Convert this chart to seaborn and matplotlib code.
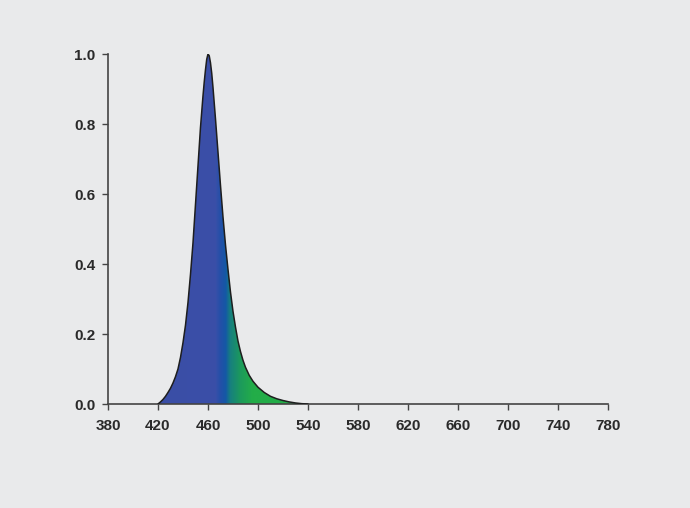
import numpy as np
import pandas as pd
import matplotlib
matplotlib.use("Agg")
import matplotlib.pyplot as plt
from matplotlib.colors import LinearSegmentedColormap
from matplotlib.patches import Polygon
import seaborn as sns

# spectrum (wavelength nm, relative intensity)
wavelength = [420, 422, 424, 426, 428, 430, 432, 434, 436, 438, 440, 442, 444, 446,
              448, 450, 452, 454, 456, 457, 458, 459, 460, 461, 462, 463, 464,
              466, 468, 470, 472, 474, 476, 478, 480, 482, 484, 486, 488, 490,
              493, 496, 500, 505, 510, 515, 520, 525, 530, 535, 540]
intensity = [0.0, 0.006, 0.013, 0.022, 0.033, 0.045, 0.06, 0.078, 0.10, 0.133,
             0.175, 0.225, 0.29, 0.37, 0.46, 0.57, 0.68, 0.79, 0.88, 0.92, 0.955,
             0.985, 1.0, 0.995, 0.975, 0.945, 0.905, 0.815, 0.72, 0.625, 0.535,
             0.455, 0.385, 0.32, 0.265, 0.22, 0.18, 0.15, 0.125, 0.105, 0.082,
             0.065, 0.048, 0.033, 0.022, 0.015, 0.01, 0.006, 0.003, 0.001, 0.0]

x_ticks = [380, 420, 460, 500, 540, 580, 620, 660, 700, 740, 780]
y_ticks = [0.0, 0.2, 0.4, 0.6, 0.8, 1.0]

# wavelength -> fill colour
color_nm = [420, 466, 470, 474, 478, 486, 496, 540]
color_hex = ["#3b4ea6", "#3a4fa8", "#2350a8", "#1458a6", "#17807e", "#1c9a5c",
             "#23ad48", "#23ad48"]

bg = "#e9eaeb"
ink = "#2a2a2a"

sns.set_theme(style="ticks")
plt.rcParams["font.family"] = ["Liberation Sans", "DejaVu Sans"]

df = pd.DataFrame({"nm": wavelength, "rel": intensity})

fig = plt.figure(figsize=(6.9, 5.08), dpi=100, facecolor=bg)
ax = fig.add_axes([0.1565, 0.2047, 0.7246, 0.689])
ax.set_facecolor(bg)

# gradient fill clipped to the curve
lo, hi = color_nm[0], color_nm[-1]
cmap = LinearSegmentedColormap.from_list(
    "spec", [((n - lo) / (hi - lo), c) for n, c in zip(color_nm, color_hex)])
grad = np.linspace(0, 1, 500).reshape(1, -1)
img = ax.imshow(grad, cmap=cmap, aspect="auto", extent=[lo, hi, 0, 1.0],
                origin="lower", zorder=1)
verts = list(zip(df["nm"], df["rel"])) + [(df["nm"].iloc[-1], 0), (df["nm"].iloc[0], 0)]
clip = Polygon(verts, closed=True, transform=ax.transData, facecolor="none",
               edgecolor="none")
ax.add_patch(clip)
img.set_clip_path(clip)

sns.lineplot(data=df, x="nm", y="rel", ax=ax, color="#1e1e1e", linewidth=1.1,
             zorder=3)

ax.set_xlim(380, 780)
ax.set_ylim(0, 1.0)
ax.set_xticks(x_ticks)
ax.set_yticks(y_ticks)
ax.set_yticklabels([f"{v:.1f}" for v in y_ticks])
ax.set_xlabel("")
ax.set_ylabel("")

for side in ["top", "right"]:
    ax.spines[side].set_visible(False)
for side in ["left", "bottom"]:
    ax.spines[side].set_color("#444444")
    ax.spines[side].set_linewidth(1.2)

ax.tick_params(axis="both", direction="out", length=4, width=1.0,
               color="#444444", labelcolor=ink, labelsize=11)
ax.tick_params(axis="x", pad=7)
ax.tick_params(axis="y", pad=5)
for lbl in ax.get_xticklabels() + ax.get_yticklabels():
    lbl.set_fontweight("bold")

fig.savefig("out.png", dpi=100, facecolor=bg)
